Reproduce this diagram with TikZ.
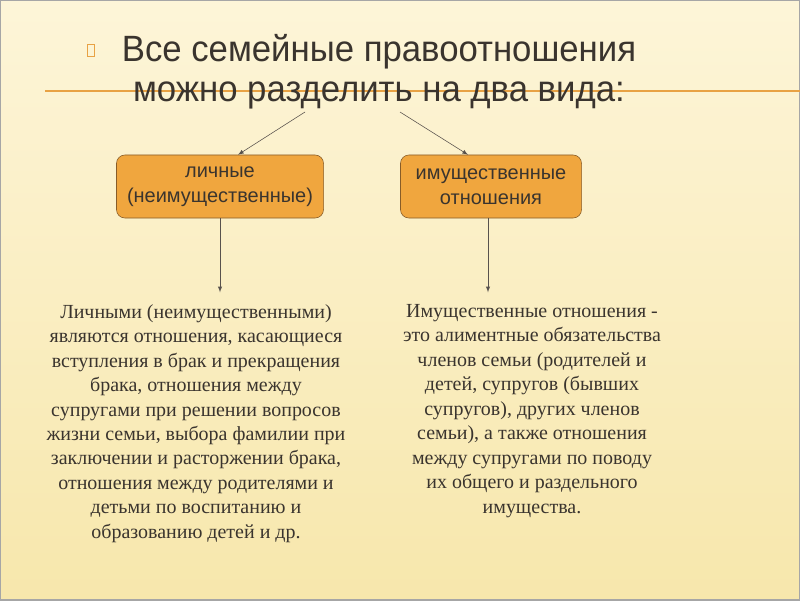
\documentclass[tikz,border=0pt]{standalone}
\usepackage{fontspec}
\setmainfont{Liberation Serif}
\newfontfamily\zagfont{Liberation Sans}
\newfontfamily\uzkfont[FakeStretch=0.95]{Liberation Sans}
\usetikzlibrary{positioning,calc}
\usetikzlibrary{arrows.meta}
\definecolor{fonverh}{RGB}{253,245,216}
\definecolor{fonniz}{RGB}{247,231,172}
\definecolor{oranzh}{RGB}{240,166,62}
\definecolor{korich}{RGB}{135,92,40}
\definecolor{liniya}{RGB}{232,162,68}
\definecolor{tekst}{RGB}{58,52,46}
\tikzstyle{vid} = [rectangle, rounded corners=6pt, minimum height=1.575cm, text centered, align=center, draw=korich, fill=oranzh, text=tekst, font=\zagfont\fontsize{14.2}{17.8}\selectfont]
\tikzstyle{opis} = [align=center, text=tekst, inner sep=0pt, font=\fontsize{14.2}{17.4}\selectfont]
\tikzstyle{arrow} = [->,>=latex, draw=tekst!85]

\begin{document}
\begin{tikzpicture}[x=0.025cm,y=-0.025cm]
\useasboundingbox (0,0) rectangle (800,600);
\shade[top color=fonverh, bottom color=fonniz] (0,0) rectangle (800,600);
\draw[gray!70, line width=1pt] (0,0) rectangle (800,600);
\draw[liniya, line width=1.2pt] (45,91) -- (800,91);

\node[draw=liniya, line width=0.6pt, minimum width=0.16cm, minimum height=0.3cm, inner sep=0pt] (marker) at (91,50) {};
\node (titul) at (379,72) [align=center, text=tekst, inner sep=0pt, font=\uzkfont\fontsize{26}{28.4}\selectfont] {Все семейные правоотношения\\можно разделить на два вида:};

\node (lichnye) at (220,186.5) [vid, minimum width=5.175cm] {личные\\(неимущественные)};
\node (imush) at (491,186.5) [vid, minimum width=4.525cm] {имущественные\\отношения};

\coordinate (s1) at (305,112);
\coordinate (s2) at (400,112);
\draw[arrow] (s1) -- ([xshift=0.45cm]lichnye.north);
\draw[arrow] (s2) -- ([xshift=-0.575cm]imush.north);

\node (opis1) at (196,304) [opis, anchor=north] {Личными (неимущественными)\\являются отношения, касающиеся\\вступления в брак и прекращения\\брака, отношения между\\супругами при решении вопросов\\жизни семьи, выбора фамилии при\\заключении и расторжении брака,\\отношения между родителями и\\детьми по воспитанию и\\образованию детей и др.};
\node (opis2) at (532,304) [opis, anchor=north] {Имущественные отношения -\\это алиментные обязательства\\членов семьи (родителей и\\детей, супругов (бывших\\супругов), других членов\\семьи), а также отношения\\между супругами по поводу\\их общего и раздельного\\имущества.};

\draw[arrow] (lichnye.south) -- ++(0,74);
\draw[arrow] ([xshift=-0.075cm]imush.south) -- ++(0,74);
\end{tikzpicture}
\end{document}
